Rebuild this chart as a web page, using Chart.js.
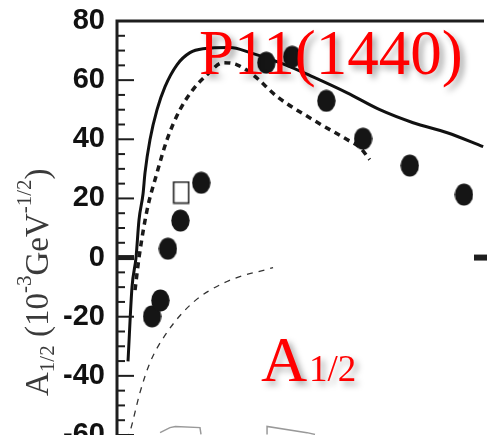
<!DOCTYPE html>
<html>
<head>
<meta charset="utf-8">
<script src="https://cdn.jsdelivr.net/npm/chart.js@4.4.1/dist/chart.umd.min.js"></script>
<style>
  body { margin: 0; background: #fff; }
  #wrap { width: 487px; height: 435px; position: relative; }
</style>
</head>
<body>
<div id="wrap"><canvas id="c"></canvas></div>
<script>
// Q^2 (GeV^2) and A1/2 values
const dataQ2 = [0.42, 0.52, 0.61, 0.76, 1.01, 1.79, 2.10, 2.51, 2.95, 3.51, 4.16];
const dataA = [-19.9, -14.5, 3.0, 12.5, 25.3, 65.9, 67.9, 53.0, 40.2, 31.1, 21.3];

const photonQ2 = [0.77];
const photonA = [22.0];

const solidQ2 = [0.132, 0.18, 0.228, 0.264, 0.312, 0.336, 0.396, 0.48, 0.576, 0.719, 0.875, 1.031, 1.355, 1.595, 1.99, 2.35, 2.76, 3.15, 3.55, 3.96, 4.39];
const solidA = [-35.1, -10, 0, 12.8, 21.5, 28.7, 39.9, 50, 57.8, 65.2, 69.3, 70.6, 71, 69.3, 65.5, 61.1, 55.7, 50, 45.6, 42.2, 37.5];

const boldDashQ2 = [0.216, 0.264, 0.36, 0.48, 0.60, 0.755, 0.911, 1.079, 1.271, 1.439, 1.631, 1.93, 2.35, 2.758, 2.914, 3.03];
const boldDashA = [-11, 0, 16, 28.7, 39.9, 50, 56.8, 61.8, 65.9, 65.2, 61.8, 54.2, 46.6, 39.9, 37.2, 33.1];

const thinDashQ2 = [0.12, 0.156, 0.276, 0.396, 0.60, 0.911, 1.319, 1.871];
const thinDashA = [-61.5, -58.8, -45.6, -35.5, -25.3, -15.2, -8.1, -3.4];

const band1Q2 = [0.516, 0.635, 0.70, 0.995, 1.007];
const band1A = [-59.2, -57.5, -57.1, -57.5, -59.8];
const band2Q2 = [1.799, 1.799, 2.278, 2.374];
const band2A = [-59.8, -57.1, -59.2, -59.8];

const yTicksMin = -60, yTicksMax = 80;

function pts(xs, ys) { return xs.map((x, i) => ({ x: x, y: ys[i] })); }

// point images: slightly tall filled dots and an open rectangle
const dot = document.createElement('canvas');
dot.width = 19; dot.height = 23;
(function () {
  const g = dot.getContext('2d');
  g.fillStyle = '#151515';
  g.beginPath();
  g.ellipse(9.5, 11.5, 9.2, 11, 0, 0, Math.PI * 2);
  g.fill();
})();
const box = document.createElement('canvas');
box.width = 18; box.height = 24;
(function () {
  const g = box.getContext('2d');
  g.strokeStyle = '#222';
  g.lineWidth = 1.6;
  g.strokeRect(1.5, 1.5, 15, 21);
})();

const decor = {
  id: 'decor',
  afterDatasetsDraw(chart) {
    const ctx = chart.ctx, a = chart.chartArea, y = chart.scales.y;
    ctx.save();
    ctx.strokeStyle = '#1e1e1e';
    ctx.lineCap = 'butt';
    // frame: left and top
    ctx.lineWidth = 3;
    ctx.beginPath();
    ctx.moveTo(a.left, a.bottom);
    ctx.lineTo(a.left, a.top);
    ctx.lineTo(a.right, a.top);
    ctx.stroke();
    // inner ticks
    for (let v = yTicksMin; v < yTicksMax; v += 5) {
      const py = y.getPixelForValue(v);
      const major = v % 20 === 0;
      ctx.lineWidth = v === 0 ? 5 : 2;
      ctx.beginPath();
      ctx.moveTo(a.left, py);
      ctx.lineTo(a.left + (major ? 17 : 8), py);
      ctx.stroke();
    }
    const p0 = y.getPixelForValue(0);
    ctx.lineWidth = 6;
    ctx.beginPath();
    ctx.moveTo(a.right - 10, p0);
    ctx.lineTo(a.right + 5, p0);
    ctx.stroke();

    // axis title with sub/superscripts, rotated
    ctx.fillStyle = '#3a3a3a';
    ctx.translate(48, 396);
    ctx.rotate(-Math.PI / 2);
    ctx.textBaseline = 'alphabetic';
    const big = '33px "Liberation Serif", serif';
    const small = '21px "Liberation Serif", serif';
    let x = 0;
    const put = (t, f, dy) => { ctx.font = f; ctx.fillText(t, x, dy); x += ctx.measureText(t).width; };
    put('A', big, 0);
    put('1/2', small, 6);
    put(' (10', big, 0);
    put('-3', small, -17);
    put('GeV', big, 0);
    put('-1/2', small, -17);
    put(')', big, 0);
    ctx.restore();

    // red labels with soft shadow
    ctx.save();
    ctx.fillStyle = '#ff0000';
    ctx.shadowColor = 'rgba(0,0,0,0.35)';
    ctx.shadowBlur = 6;
    ctx.shadowOffsetX = 4;
    ctx.shadowOffsetY = 4;
    ctx.textBaseline = 'alphabetic';
    ctx.font = '63px "Liberation Serif", serif';
    ctx.fillText('P11(1440)', 199, 74);
    ctx.font = '64px "Liberation Serif", serif';
    ctx.fillText('A', 261, 381);
    ctx.font = '37px "Liberation Serif", serif';
    ctx.fillText('1/2', 309, 381);
    ctx.restore();
  }
};

new Chart(document.getElementById('c'), {
  type: 'line',
  data: {
    datasets: [
      { type: 'scatter', data: pts(dataQ2, dataA), pointStyle: dot, pointRadius: 10, showLine: false },
      { type: 'scatter', data: pts(photonQ2, photonA), pointStyle: box, pointRadius: 10, showLine: false },
      { data: pts(solidQ2, solidA), borderColor: '#111', borderWidth: 3, pointRadius: 0, cubicInterpolationMode: 'monotone', fill: false },
      { data: pts(boldDashQ2, boldDashA), borderColor: '#1a1a1a', borderWidth: 3.5, borderDash: [6, 5], pointRadius: 0, cubicInterpolationMode: 'monotone', fill: false },
      { data: pts(thinDashQ2, thinDashA), borderColor: '#333', borderWidth: 1.3, borderDash: [6, 6], pointRadius: 0, cubicInterpolationMode: 'monotone', fill: false },
      { data: pts(band1Q2, band1A), borderColor: '#999', borderWidth: 1.5, pointRadius: 0, fill: false },
      { data: pts(band2Q2, band2A), borderColor: '#999', borderWidth: 1.5, pointRadius: 0, fill: false }
    ]
  },
  options: {
    responsive: true,
    maintainAspectRatio: false,
    animation: false,
    devicePixelRatio: 1,
    layout: { autoPadding: false, padding: { top: 21, right: 3, bottom: 0, left: 0 } },
    plugins: { legend: { display: false }, tooltip: { enabled: false } },
    scales: {
      x: { type: 'linear', min: 0, max: 4.4, display: false },
      y: {
        type: 'linear', min: yTicksMin, max: yTicksMax,
        afterFit(s) { s.width = 117; s.paddingTop = 0; s.paddingBottom = 0; },
        grid: { display: false, drawTicks: false },
        border: { display: false },
        ticks: {
          stepSize: 20, padding: 12, color: '#111',
          font: { family: '"Liberation Sans Narrow", "Liberation Sans", Arial, sans-serif', size: 29, weight: 'bold', lineHeight: 0.05 }
        }
      }
    }
  },
  plugins: [decor]
});
</script>
</body>
</html>
